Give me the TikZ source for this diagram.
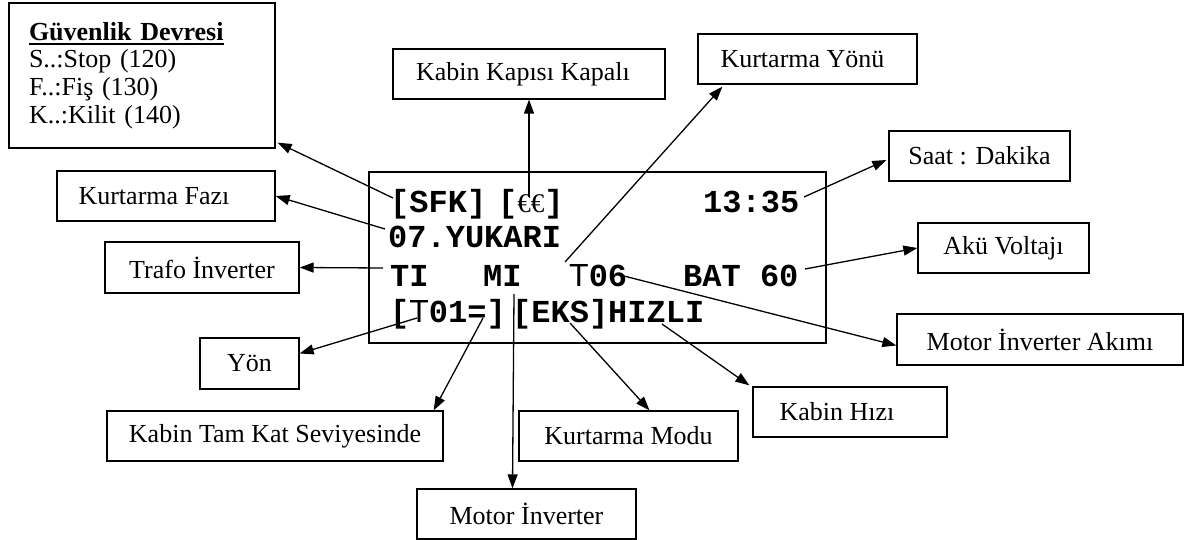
\documentclass[tikz,border=0pt]{standalone}
\usepackage{fontspec}
\setmainfont{Liberation Serif}
\newfontfamily\lcdfont{Liberation Mono}
\newfontfamily\thinfont{Liberation Sans}
\usetikzlibrary{arrows.meta,calc}
\newcommand\myul[1]{\setbox0\hbox{#1}\rlap{\rule[-5pt]{\wd0}{2.6pt}}\box0}
\begin{document}
\begin{tikzpicture}[x=1pt,y=-1pt,
  lbl/.style={draw,line width=1.3pt,inner sep=0pt,font=\fontsize{26}{30}\selectfont,minimum height=50pt},
  lcdtxt/.style={anchor=base west,inner sep=0pt,font=\lcdfont\bfseries\fontsize{32}{32}\selectfont},
  arr/.style={line width=1.3pt,-{Triangle[length=14pt,width=10pt]}}]
\useasboundingbox (0,0) rectangle (1184,540);
% LCD screen
\node[draw,line width=2.6pt,minimum width=457pt,minimum height=171pt,inner sep=0pt] (lcd) at (597.5,257.5) {};
\node[lcdtxt] (t1a) at (390,213) {[SFK]};
\node[lcdtxt] (t1b) at (498,213) {[{\rmfamily\mdseries\fontsize{27}{27}\selectfont €€}]};
\node[lcdtxt] (t1c) at (703,213) {13:35};
\node[lcdtxt] (t2) at (388,248) {07.YUKARI};
\node[lcdtxt] (t3a) at (390,287) {TI};
\node[lcdtxt] (t3b) at (483,287) {MI};
\node[lcdtxt] (t3c) at (569,287) {{\thinfont\mdseries T}06};
\node[lcdtxt] (t3d) at (683,287) {BAT 60};
\node[lcdtxt] (t4a) at (390,323) {[{\thinfont\mdseries T}01=]};
\node[lcdtxt] (t4b) at (512,323) {[EKS]HIZLI};
% label boxes
\node[draw,line width=1.3pt,minimum width=266pt,minimum height=145pt,inner sep=0pt,text width=226pt,align=left,font=\fontsize{26}{27.7}\selectfont] (gd) at (142,75.5)
  {\textbf{\myul{Güvenlik Devresi}}\\S..:Stop (120)\\F..:Fiş (130)\\K..:Kilit (140)};
\node[lbl,minimum width=218pt] (kf) at (166,196) {Kurtarma Fazı\hspace*{24pt}};
\node[lbl,minimum width=194pt,minimum height=51pt] (tr) at (202,267.5) {Trafo İnverter};
\node[lbl,minimum width=99pt,minimum height=51pt] (yon) at (249.5,363.5) {Yön};
\node[lbl,minimum width=336pt] (kt) at (275,436) {Kabin Tam Kat Seviyesinde};
\node[lbl,minimum width=219pt] (mi) at (526.5,514) {Motor İnverter};
\node[lbl,minimum width=219pt] (km) at (628.5,436) {Kurtarma Modu};
\node[lbl,minimum width=194pt] (kh) at (850,412) {Kabin Hızı\hspace*{26pt}};
\node[lbl,minimum width=286pt,minimum height=51pt] (mia) at (1040,339.5) {Motor İnverter Akımı};
\node[lbl,minimum width=171pt] (av) at (1003.5,248) {Akü Voltajı};
\node[lbl,minimum width=181pt] (sd) at (979.5,156) {Saat : Dakika};
\node[lbl,minimum width=219pt] (ky) at (807.5,59) {Kurtarma Yönü\hspace*{10pt}};
\node[lbl,minimum width=272pt] (kk) at (529,74) {Kabin Kapısı Kapalı\hspace*{12pt}};
% connector start points
\coordinate (s1) at (393,198);
\coordinate (s2) at (385,229);
\coordinate (s3) at (383,268);
\coordinate (s4) at (417,318);
\coordinate (s5) at (483,318);
\coordinate (s6) at (514,294);
\coordinate (s7) at (570,323);
\coordinate (s8) at (662,324);
\coordinate (s9) at (620,275);
\coordinate (s10) at (805,269);
\coordinate (s11) at (804,197);
\coordinate (s12) at (565,262);
\coordinate (s13) at (529,197);
% connectors
\draw[arr] (s1) -- ($(gd.south east)+(2,-6)$);
\draw[arr] (s2) -- (kf.east);
\draw[arr] (s3) -- (tr.east);
\draw[arr] (s4) -- ($(yon.east)+(0,-10)$);
\draw[arr] (s5) -- ($(kt.north east)+(-10,0)$);
\draw[arr] (s6) -- ($(mi.north)+(-14,0)$);
\draw[arr] (s7) -- ($(km.north)+(21,0)$);
\draw[arr] (s8) -- ($(kh.north west)+(-3,-1)$);
\draw[arr] (s9) -- ($(mia.west)+(0,6)$);
\draw[arr] (s10) -- (av.west);
\draw[arr] (s11) -- ($(sd.west)+(-2,4)$);
\draw[arr] (s12) -- ($(ky.south west)+(25,2)$);
\draw[arr] (s13) -- (kk.south);
\end{tikzpicture}
\end{document}
